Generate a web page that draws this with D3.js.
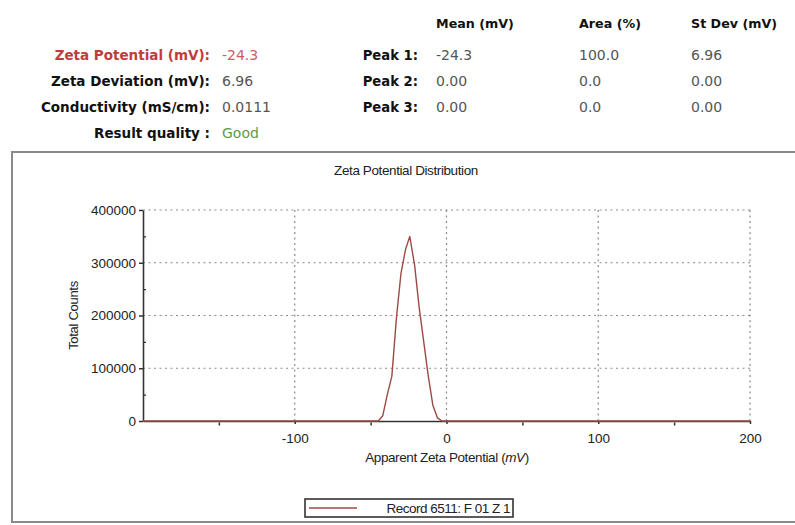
<!DOCTYPE html>
<html><head><meta charset="utf-8">
<script src="https://cdn.jsdelivr.net/npm/d3@7/dist/d3.min.js"></script>
<style>
html,body{margin:0;padding:0;background:#fff;}
svg{display:block;}
</style></head>
<body><svg id="c" width="795" height="525"></svg>
<script>
// ---- data ----
const resultLabels = ["Zeta Potential (mV):", "Zeta Deviation (mV):", "Conductivity (mS/cm):", "Result quality :"];
const resultValues = ["-24.3", "6.96", "0.0111", "Good"];
const peakLabels = ["Peak 1:", "Peak 2:", "Peak 3:"];
const peakColumns = ["Mean (mV)", "Area (%)", "St Dev (mV)"];
const peakMeans = ["-24.3", "0.00", "0.00"];
const peakAreas = ["100.0", "0.0", "0.0"];
const peakStDevs = ["6.96", "0.00", "0.00"];
const zetaMV = [-200, -45, -42, -39, -36, -33, -30, -27, -24.2, -21, -18, -15, -12, -9, -6, -3, 200];
const totalCounts = [0, 0, 10000, 50000, 85000, 195000, 280000, 325000, 350000, 295000, 215000, 150000, 85000, 30000, 6000, 0, 0];
const xTicks = [-100, 0, 100, 200];
const xMinor = [-150, -50, 50, 150];
const yTicks = [0, 100000, 200000, 300000, 400000];
const yMinor = [50000, 150000, 250000, 350000];
const chartTitle = "Zeta Potential Distribution";
const xLabel = "Apparent Zeta Potential (mV)";
const yLabel = "Total Counts";
const legendLabel = "Record 6511: F 01 Z 1";

const svg = d3.select("#c");
const hdrFont = "'DejaVu Sans', sans-serif";
const plotFont = "'Liberation Sans', Arial, sans-serif";

// ---- header block ----
const rowY = [55, 81, 107, 133];
const labelColors = ["#c23b3b", "#111", "#111", "#111"];
const valueColors = ["#c86060", "#555", "#555", "#5f9a45"];
svg.append("g").selectAll("text").data(resultLabels).join("text")
  .attr("x", 210).attr("y", (d, i) => rowY[i]).attr("dy", "0.35em")
  .attr("text-anchor", "end").attr("font-family", hdrFont).attr("font-weight", "bold")
  .attr("font-size", 13.5).attr("fill", (d, i) => labelColors[i]).text(d => d);
svg.append("g").selectAll("text").data(resultValues).join("text")
  .attr("x", 222).attr("y", (d, i) => rowY[i]).attr("dy", "0.35em")
  .attr("font-family", hdrFont).attr("font-size", 14)
  .attr("fill", (d, i) => valueColors[i]).text(d => d);

const colX = [436, 579, 691];
svg.append("g").selectAll("text").data(peakColumns).join("text")
  .attr("x", (d, i) => colX[i]).attr("y", 24).attr("dy", "0.35em")
  .attr("font-family", hdrFont).attr("font-weight", "bold").attr("font-size", 12.7)
  .attr("fill", "#111").text(d => d);
svg.append("g").selectAll("text").data(peakLabels).join("text")
  .attr("x", 418).attr("y", (d, i) => rowY[i]).attr("dy", "0.35em")
  .attr("text-anchor", "end").attr("font-family", hdrFont).attr("font-weight", "bold")
  .attr("font-size", 13.2).attr("fill", "#111").text(d => d);
[peakMeans, peakAreas, peakStDevs].forEach((col, ci) => {
  svg.append("g").selectAll("text").data(col).join("text")
    .attr("x", colX[ci]).attr("y", (d, i) => rowY[i]).attr("dy", "0.35em")
    .attr("font-family", hdrFont).attr("font-size", 14)
    .attr("fill", "#555").text(d => d);
});

// ---- chart frame ----
svg.append("rect").attr("x", 12).attr("y", 152).attr("width", 800).attr("height", 370)
  .attr("fill", "none").attr("stroke", "#8a8a8a").attr("stroke-width", 2);

const x = d3.scaleLinear().domain([-200, 200]).range([143, 750]);
const y = d3.scaleLinear().domain([0, 400000]).range([421, 210]);

// grid
const grid = svg.append("g").attr("stroke", "#8a8a8a").attr("stroke-width", 1.2)
  .attr("stroke-dasharray", "2,3.5");
grid.selectAll(".h").data(yTicks.filter(v => v > 0)).join("line")
  .attr("x1", x(-200)).attr("x2", x(200)).attr("y1", d => y(d)).attr("y2", d => y(d));
grid.selectAll(".v").data(xTicks).join("line")
  .attr("y1", y(0)).attr("y2", y(400000)).attr("x1", d => x(d)).attr("x2", d => x(d));

// axes
const fmt = d => String(d);
const xAxis = svg.append("g").attr("transform", `translate(0,${y(0)})`)
  .call(d3.axisBottom(x).tickValues(xTicks).tickSize(3).tickPadding(9).tickSizeOuter(0).tickFormat(fmt));
const yAxis = svg.append("g").attr("transform", `translate(${x(-200)},0)`)
  .call(d3.axisLeft(y).tickValues(yTicks).tickSize(4).tickPadding(3).tickSizeOuter(0).tickFormat(fmt));
[xAxis, yAxis].forEach(a => {
  a.select(".domain").attr("stroke", "#333").attr("stroke-width", 1.6);
  a.selectAll(".tick line").attr("stroke", "#333").attr("stroke-width", 1.5);
  a.selectAll("text").attr("font-family", plotFont).attr("font-size", 13.5).attr("fill", "#222");
});
svg.append("g").attr("transform", `translate(0,${y(0) + 1.5})`)
  .call(d3.axisBottom(x).tickValues(xMinor).tickSize(3).tickFormat("").tickSizeOuter(0))
  .call(g => g.select(".domain").remove())
  .selectAll("line").attr("stroke", "#333").attr("stroke-width", 1.5);
svg.append("g").attr("transform", `translate(${x(-200) + 3},0)`)
  .call(d3.axisLeft(y).tickValues(yMinor).tickSize(3).tickFormat("").tickSizeOuter(0))
  .call(g => g.select(".domain").remove())
  .selectAll("line").attr("stroke", "#333").attr("stroke-width", 1.3);

// curve
const line = d3.line().x((d, i) => x(zetaMV[i])).y(d => y(d));
svg.append("path").datum(totalCounts).attr("d", line)
  .attr("fill", "none").attr("stroke", "#9c4a44").attr("stroke-width", 1.4)
  .attr("stroke-linejoin", "round");

// titles
svg.append("text").attr("x", 406).attr("y", 170).attr("dy", "0.35em").attr("text-anchor", "middle")
  .attr("font-family", plotFont).attr("font-size", 13.5).attr("letter-spacing", -0.4)
  .attr("fill", "#222").text(chartTitle);
const xl = svg.append("text").attr("x", 447).attr("y", 457).attr("dy", "0.35em").attr("text-anchor", "middle")
  .attr("font-family", plotFont).attr("font-size", 13.5).attr("letter-spacing", -0.4).attr("fill", "#222");
xl.append("tspan").text(xLabel.replace(" (mV)", " ("));
xl.append("tspan").attr("font-style", "italic").text("mV");
xl.append("tspan").text(")");
svg.append("text").attr("transform", `translate(73,${(y(0) + y(400000)) / 2}) rotate(-90)`)
  .attr("dy", "0.35em").attr("text-anchor", "middle")
  .attr("font-family", plotFont).attr("font-size", 13).attr("letter-spacing", -0.3)
  .attr("fill", "#222").text(yLabel);

// legend
const lg = svg.append("g");
lg.append("rect").attr("x", 305).attr("y", 499).attr("width", 208).attr("height", 18)
  .attr("fill", "#fff").attr("stroke", "#333").attr("stroke-width", 1.6);
lg.append("line").attr("x1", 309).attr("x2", 357).attr("y1", 508).attr("y2", 508)
  .attr("stroke", "#9c4a44").attr("stroke-width", 1.4);
lg.append("text").attr("x", 510).attr("y", 508).attr("dy", "0.35em").attr("text-anchor", "end")
  .attr("font-family", plotFont).attr("font-size", 13.5).attr("letter-spacing", -0.5)
  .attr("fill", "#222").text(legendLabel);
</script></body></html>
